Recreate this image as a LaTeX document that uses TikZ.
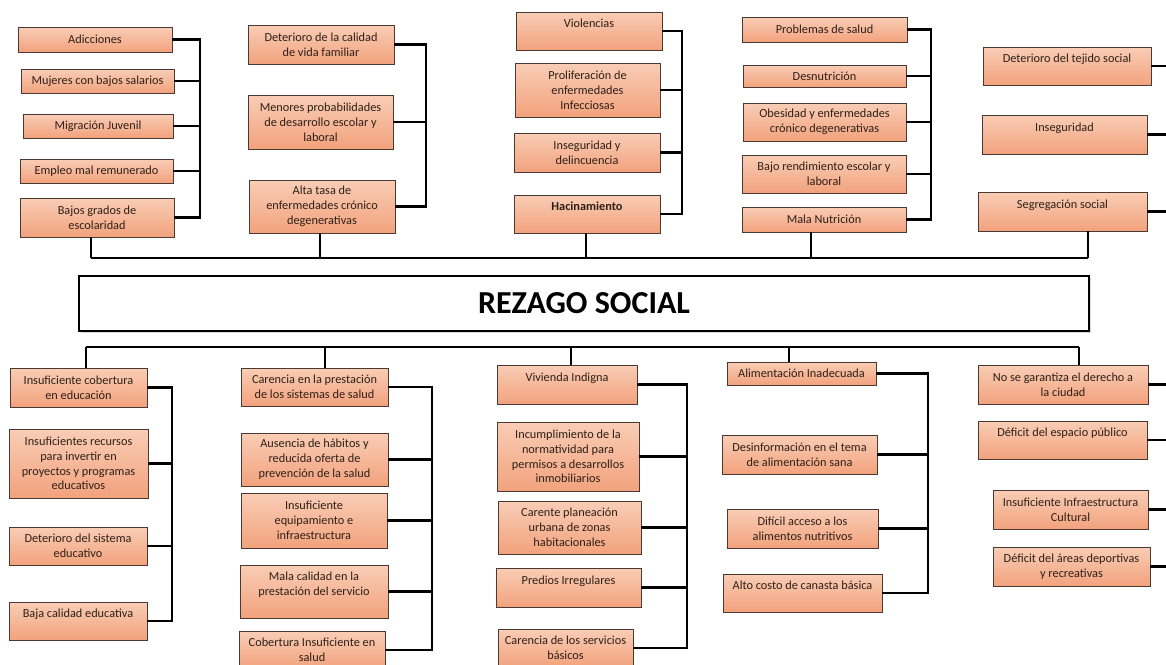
\documentclass[tikz,border=0pt]{standalone}
\usepackage{fontspec}
\setmainfont{Carlito}
\usetikzlibrary{shadows}

\definecolor{durazno}{HTML}{F9CDB5}
\definecolor{salmon}{HTML}{F2A27D}
\definecolor{borde}{HTML}{4A3A33}
\definecolor{letra}{HTML}{2E2019}

\tikzset{
  causa/.style={draw=borde, line width=0.8pt, top color=durazno, bottom color=salmon,
    text=letra, align=center, inner sep=0pt, font=\fontsize{12.3}{14.8}\selectfont},
  rama/.style={line width=2.4pt, line join=miter},
  eje/.style={line width=1.8pt}
}

\begin{document}
\begin{tikzpicture}[x=1pt,y=-1pt]
            \useasboundingbox (0,0) rectangle (1166,664);

            % problema central
            \node[draw, line width=1.6pt, fill=white,
                drop shadow={opacity=0.3, shadow xshift=2pt, shadow yshift=-2pt},
                minimum width=1010, minimum height=55,
                font=\bfseries\fontsize{32}{38}\selectfont] (rezago) at (584,303.5) {REZAGO SOCIAL};

            % efectos (arriba)
            \node[causa, minimum width=154, minimum height=25] (adic) at (95,39.5) {Adicciones};
            \node[causa, minimum width=153, minimum height=24] (mujer) at (97.5,81) {Mujeres con bajos salarios};
            \node[causa, minimum width=150, minimum height=24] (migra) at (98,126) {Migración Juvenil};
            \node[causa, minimum width=153, minimum height=24] (emple) at (96.5,171) {Empleo mal remunerado};
            \node[causa, minimum width=154, minimum height=39] (bajos) at (97,217.5) {Bajos grados de\\escolaridad};

            \node[causa, minimum width=146, minimum height=39] (vidaf) at (321,44.5) {Deterioro de la calidad\\de vida familiar};
            \node[causa, minimum width=145, minimum height=54] (menor) at (320.5,122) {Menores probabilidades\\de desarrollo escolar y\\laboral};
            \node[causa, minimum width=146, minimum height=53] (altat) at (322,206.5) {Alta tasa de\\enfermedades crónico\\degenerativas};

            \node[causa, minimum width=146, minimum height=38] (viol) at (589,31) {Violencias\\~};
            \node[causa, minimum width=145, minimum height=54] (proli) at (587.5,90) {Proliferación de\\enfermedades\\Infecciosas};
            \node[causa, minimum width=146, minimum height=39] (inseg) at (587,152.5) {Inseguridad y\\delincuencia};
            \node[causa, minimum width=146, minimum height=38] (hacin) at (587,214) {\textbf{Hacinamiento}\\~};

            \node[causa, minimum width=165, minimum height=25] (probs) at (824.5,29.5) {Problemas de salud};
            \node[causa, minimum width=163, minimum height=22] (desnu) at (824.5,76) {Desnutrición};
            \node[causa, minimum width=163, minimum height=38] (obesi) at (824.5,122) {Obesidad y enfermedades\\crónico degenerativas};
            \node[causa, minimum width=164, minimum height=38] (rendi) at (824,174) {Bajo rendimiento escolar y\\laboral};
            \node[causa, minimum width=164, minimum height=25] (malan) at (824,219.5) {Mala Nutrición};

            \node[causa, minimum width=168, minimum height=38] (tejid) at (1067,66) {Deterioro del tejido social\\~};
            \node[causa, minimum width=165, minimum height=39] (insegu) at (1064.5,134.5) {Inseguridad\\~};
            \node[causa, minimum width=169, minimum height=39] (segre) at (1062.5,211.5) {Segregación social\\~};

            % causas (abajo)
            \node[causa, minimum width=137, minimum height=39] (cober) at (78.5,387.5) {Insuficiente cobertura\\en educación};
            \node[causa, minimum width=139, minimum height=69] (recur) at (78.5,463.5) {Insuficientes recursos\\para invertir en\\proyectos y programas\\educativos};
            \node[causa, minimum width=138, minimum height=38] (siste) at (78,546) {Deterioro del sistema\\educativo};
            \node[causa, minimum width=138, minimum height=38] (bajac) at (78,621) {Baja calidad educativa\\~};

            \node[causa, minimum width=147, minimum height=38] (caren) at (314.5,387) {Carencia en la prestación\\de los sistemas de salud};
            \node[causa, minimum width=147, minimum height=53] (ausen) at (314.5,459.5) {Ausencia de hábitos y\\reducida oferta de\\prevención de la salud};
            \node[causa, minimum width=146, minimum height=55] (equip) at (314,520.5) {Insuficiente\\equipamiento e\\infraestructura};
            \node[causa, minimum width=148, minimum height=53] (malac) at (314,591.5) {Mala calidad en la\\prestación del servicio\\~};
            \node[causa, minimum width=146, minimum height=38] (cobsa) at (312,650) {Cobertura Insuficiente en\\salud};

            \node[causa, minimum width=140, minimum height=39] (vivie) at (567,384.5) {Vivienda Indigna\\~};
            \node[causa, minimum width=142, minimum height=69] (incum) at (568,456.5) {Incumplimiento de la\\normatividad para\\permisos a desarrollos\\inmobiliarios};
            \node[causa, minimum width=143, minimum height=53] (plane) at (569.5,527.5) {Carente planeación\\urbana de zonas\\habitacionales};
            \node[causa, minimum width=145, minimum height=39] (predi) at (568.5,587.5) {Predios Irregulares\\~};
            \node[causa, minimum width=135, minimum height=38] (servi) at (565.5,648) {Carencia de los servicios\\básicos};

            \node[causa, minimum width=149, minimum height=23] (alime) at (801.5,373.5) {Alimentación Inadecuada};
            \node[causa, minimum width=155, minimum height=39] (desin) at (799.5,454.5) {Desinformación en el tema\\de alimentación sana};
            \node[causa, minimum width=151, minimum height=39] (dific) at (802.5,528.5) {Difícil acceso a los\\alimentos nutritivos};
            \node[causa, minimum width=159, minimum height=38] (costo) at (802.5,593) {Alto costo de canasta básica\\~};

            \node[causa, minimum width=170, minimum height=39] (ciuda) at (1063,384.5) {No se garantiza el derecho a\\la ciudad};
            \node[causa, minimum width=169, minimum height=38] (espac) at (1062.5,440) {Déficit del espacio público\\~};
            \node[causa, minimum width=155, minimum height=39] (cultu) at (1070.5,509.5) {Insuficiente Infraestructura\\Cultural};
            \node[causa, minimum width=157, minimum height=39] (depor) at (1071.5,566.5) {Déficit del áreas deportivas\\y recreativas};

            % llaves de cada grupo
            \coordinate (e1) at (200,0);
            \coordinate (e2) at (426,0);
            \coordinate (e3) at (682,0);
            \coordinate (e4) at (931,0);
            \coordinate (c1) at (172,0);
            \coordinate (c2) at (432,0);
            \coordinate (c3) at (687,0);
            \coordinate (c4) at (928,0);
            \coordinate (filo) at (1170,0);

            \foreach \a/\b/\e in {adic/bajos/e1, vidaf/altat/e2, viol/hacin/e3, probs/malan/e4,
                    cober/bajac/c1, caren/cobsa/c2, vivie/servi/c3, alime/costo/c4} {
                    \draw[rama] (\a.east) -- (\a.east -| \e) -- (\b.east -| \e) -- (\b.east);
                }
            \foreach \n/\e in {mujer/e1, migra/e1, emple/e1, menor/e2, proli/e3, inseg/e3,
                    desnu/e4, obesi/e4, rendi/e4, recur/c1, siste/c1, ausen/c2, equip/c2,
                    malac/c2, incum/c3, plane/c3, predi/c3, desin/c4, dific/c4} {
                    \draw[rama] (\n.east) -- (\n.east -| \e);
                }
            \foreach \n in {tejid, insegu, segre, ciuda, espac, cultu, depor} {
                    \draw[rama] (\n.east) -- (\n.east -| filo);
                }

            % troncos
            \coordinate (u1) at (91,258);
            \coordinate (u2) at (320,258);
            \coordinate (u3) at (586,258);
            \coordinate (u4) at (811,258);
            \coordinate (u5) at (1088,258);
            \draw[eje] (u1) -- (u5);
            \foreach \n/\u in {bajos/u1, altat/u2, hacin/u3, malan/u4, segre/u5} {
                    \draw[rama] (\n.south -| \u) -- (\u);
                }

            \coordinate (d1) at (86,347);
            \coordinate (d2) at (325,347);
            \coordinate (d3) at (571,347);
            \coordinate (d4) at (789,347);
            \coordinate (d5) at (1079,347);
            \draw[eje] (d1) -- (d5);
            \foreach \n/\d in {cober/d1, caren/d2, vivie/d3, alime/d4, ciuda/d5} {
                    \draw[rama] (\d) -- (\d |- \n.north);
                }
        \end{tikzpicture}
\end{document}
